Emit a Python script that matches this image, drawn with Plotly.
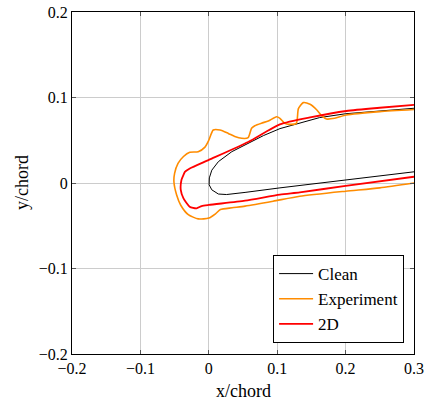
import plotly.graph_objects as go

# Clean airfoil (upper surface from trailing side to leading edge, then lower surface)
clean_x = [0.300, 0.250, 0.200, 0.162, 0.133, 0.104, 0.080, 0.0575, 0.0336, 0.014, 0.0044,
           0.0008, 0.0005, 0.0044, 0.014, 0.026, 0.034, 0.053, 0.104, 0.133, 0.200, 0.250, 0.300]
clean_y = [0.0874, 0.0845, 0.0810, 0.0765, 0.0700, 0.0636, 0.0555, 0.0460, 0.0366, 0.0250, 0.0150,
           0.0060, -0.0020, -0.0080, -0.0129, -0.0135, -0.0130, -0.0110, -0.0057, -0.0030, 0.0035, 0.0083, 0.0131]

# Experiment (ice shape)
exp_x = [0.300, 0.250, 0.201, 0.184, 0.172, 0.165, 0.158, 0.148, 0.138, 0.131, 0.128, 0.118,
         0.111, 0.104, 0.099, 0.087, 0.077, 0.0673, 0.0625, 0.0575, 0.048, 0.038, 0.0285, 0.0164,
         0.0065, 0.0, -0.0056, -0.0155, -0.0278, -0.037, -0.045, -0.050, -0.051, -0.047, -0.041,
         -0.030, -0.0155, 0.0, 0.0098, 0.017, 0.034, 0.053, 0.094, 0.133, 0.200, 0.250, 0.300]
exp_y = [0.0860, 0.0835, 0.0795, 0.0757, 0.0749, 0.0787, 0.0854, 0.0920, 0.0940, 0.0870, 0.0698, 0.0686,
         0.0698, 0.0757, 0.0775, 0.0725, 0.0700, 0.0670, 0.0640, 0.0530, 0.0523, 0.0545, 0.0580, 0.0620,
         0.0620, 0.0500, 0.0420, 0.0366, 0.0360, 0.0310, 0.0230, 0.0113, 0.0015, -0.0140, -0.0260,
         -0.0370, -0.0420, -0.0410, -0.0360, -0.0310, -0.0290, -0.0270, -0.0213, -0.0155, -0.0096, -0.0057, 0.0000]

# 2D simulation
d2_x = [0.300, 0.250, 0.201, 0.150, 0.104, 0.0575, 0.0, -0.0278, -0.035, -0.037, -0.040, -0.041,
        -0.037, -0.028, -0.018, -0.0105, 0.0, 0.053, 0.104, 0.133, 0.200, 0.300]
d2_y = [0.0913, 0.0880, 0.0842, 0.0770, 0.0686, 0.0480, 0.0270, 0.0170, 0.0130, 0.0094, 0.0035, -0.0080,
        -0.0180, -0.0277, -0.0296, -0.0270, -0.0257, -0.0207, -0.0135, -0.0110, -0.0033, 0.0073]

x_title = "x/chord"
y_title = "y/chord"

FONT = "Liberation Serif, Times New Roman, serif"

fig = go.Figure()
fig.add_trace(go.Scatter(x=clean_x, y=clean_y, mode="lines", name="Clean",
                         line=dict(color="black", width=1)))
fig.add_trace(go.Scatter(x=exp_x, y=exp_y, mode="lines", name="Experiment",
                         line=dict(color="#ff8c00", width=1.6, shape="spline", smoothing=0.6)))
fig.add_trace(go.Scatter(x=d2_x, y=d2_y, mode="lines", name="2D",
                         line=dict(color="#ff0000", width=1.8, shape="spline", smoothing=0.6)))

axis_common = dict(
    showline=True, linecolor="black", linewidth=1, mirror="ticks",
    ticks="inside", ticklen=4, tickcolor="#555555",
    showgrid=True, gridcolor="#cccccc", gridwidth=1,
    zeroline=False, tickfont=dict(family=FONT, size=16, color="black"),
    dtick=0.1, automargin=False,
)

fig.update_layout(
    width=446, height=407,
    margin=dict(l=72, r=32, t=12, b=53, autoexpand=False),
    paper_bgcolor="white", plot_bgcolor="white",
    font=dict(family=FONT, size=16, color="black"),
    xaxis=dict(range=[-0.2, 0.3], tick0=-0.2, **axis_common),
    yaxis=dict(range=[-0.2, 0.2], tick0=-0.2, **axis_common),
    legend=dict(x=0.971, y=0.032, xanchor="right", yanchor="bottom",
                bordercolor="black", borderwidth=1, bgcolor="white",
                font=dict(family=FONT, size=17), tracegroupgap=0,
                itemwidth=34),
    showlegend=True,
    annotations=[
        dict(text=x_title, xref="paper", yref="paper", x=0.5, y=-0.108,
             xanchor="center", yanchor="middle", showarrow=False,
             font=dict(family=FONT, size=18)),
        dict(text=y_title, xref="paper", yref="paper", x=-0.146, y=0.5,
             xanchor="center", yanchor="middle", showarrow=False, textangle=-90,
             font=dict(family=FONT, size=18)),
    ],
)

fig.write_html("out.html", config={"displayModeBar": False},
               post_script="document.body.style.margin='0';document.body.style.overflow='hidden';")
